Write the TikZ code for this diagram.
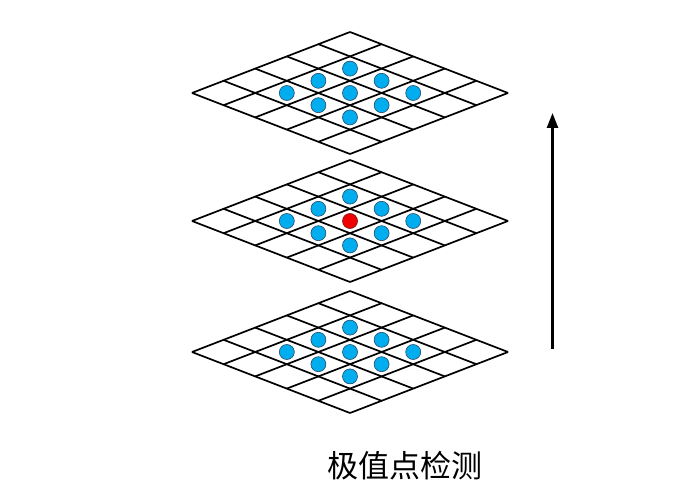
\documentclass[tikz,border=0pt]{standalone}
\usepackage{fontspec}
\newfontfamily\cjk{Noto Sans CJK SC}
\usetikzlibrary{arrows.meta}
\definecolor{dotblue}{RGB}{0,174,239}
\definecolor{dotline}{RGB}{40,70,100}
\definecolor{dotred}{RGB}{240,0,0}
\definecolor{redline}{RGB}{120,20,20}
\tikzset{
  grid/.style={line width=1.7pt, black},
  dot/.style={circle, draw=dotline, fill=dotblue, line width=0.6pt, minimum size=15pt, inner sep=0pt},
  reddot/.style={dot, draw=redline, fill=dotred},
}
\begin{document}
\begin{tikzpicture}[x=1pt,y=-1pt]
\useasboundingbox (0,0) rectangle (698,497);
\foreach \cy/\nm in {93/top,221/mid,352/bot} {
  \foreach \k in {0,...,5} {
    \draw[grid] ({350-31.6*\k},{\cy-61+12.2*\k}) -- ++(158,61);
    \draw[grid] ({350+31.6*\k},{\cy-61+12.2*\k}) -- ++(-158,61);
  }
  \foreach \i/\j in {1/1,1/2,1/3,2/1,2/3,3/1,3/2,3/3} {
    \node[dot] (\nm-\i-\j) at ({350+31.6*(\i-\j)},{\cy-61+12.2*(\i+\j+1)}) {};
  }
}
\node[dot] (top-2-2) at (350,93) {};
\node[reddot] (mid-2-2) at (350,221) {};
\node[dot] (bot-2-2) at (350,352) {};
\coordinate (a0) at (552.5,349);
\coordinate (a1) at (552.5,113);
\draw[line width=2.5pt, -{Triangle[length=15pt,width=11pt]}] (a0) -- (a1);
\node[font=\cjk\fontsize{31}{31}\selectfont, anchor=center] (label) at (405,466) {极值点检测};
\end{tikzpicture}
\end{document}
